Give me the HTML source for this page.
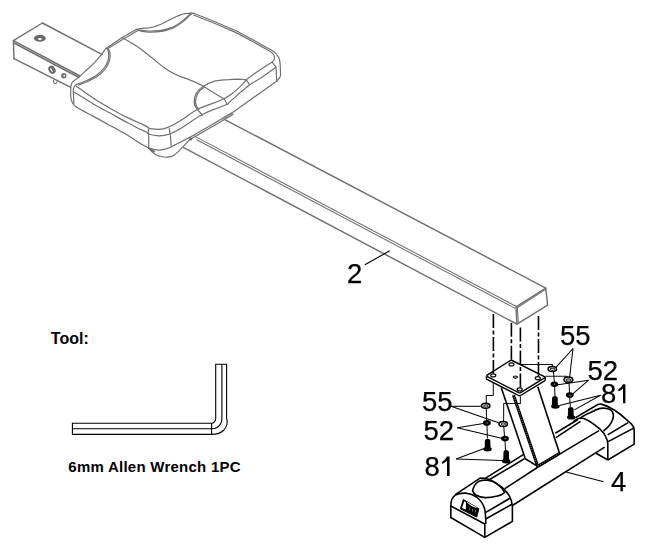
<!DOCTYPE html>
<html><head><meta charset="utf-8">
<style>
html,body{margin:0;padding:0;background:#fff;}
body{width:645px;height:545px;overflow:hidden;}
svg{display:block;} text.lbl{will-change:transform;}
.g{fill:none;stroke:#707070;stroke-width:1.45;stroke-linejoin:round;stroke-linecap:round;}
.b{fill:none;stroke:#000;stroke-width:1.6;stroke-linejoin:round;}
.t{fill:none;stroke:#000;stroke-width:0.9;}
.d{fill:none;stroke:#000;stroke-width:1.6;stroke-dasharray:14 2.5 4 2.5;}
.lbl{font-family:"Liberation Sans",sans-serif;font-size:27.5px;fill:#000;stroke:#000;stroke-width:0.25px;}
.bt{font-family:"Liberation Sans",sans-serif;font-weight:bold;fill:#000;}
</style></head>
<body>
<svg width="645" height="545" viewBox="0 0 645 545">
<rect width="645" height="545" fill="#fff"/>

<!-- ===== BEAM (part 2) ===== -->
<g class="g">
  <!-- rear end -->
  <path d="M42.4,23 L13.4,40.7 L14,58.7"/>
  <path d="M42.4,23 L102,54.3"/>
  <path d="M13.4,40.7 L80,76"/>
  <path d="M14,43 L79,77.5"/>
  <path d="M14,58.7 L70.3,87.2"/>
  <!-- main beam after seat -->
  <path d="M225.2,119.8 L545.8,288.1"/>
  <path d="M195,136.4 L516,306.3" stroke-width="1.05"/>
  <path d="M196.7,139.8 L514.8,308.1" stroke-width="1.05"/>
  <path d="M183.7,147.7 L517,324.2"/>
  <!-- end face -->
  <path d="M545.8,288.1 L516,306.8 L517,324.2 L547.6,305.2 Z"/>
  <path d="M545.2,289.6 L517.2,307.8" stroke-width="1.1"/>
  <path d="M517.4,307.8 L518.3,323.4" stroke-width="1.1"/>
</g>
<!-- rear-end holes -->
<ellipse cx="39.85" cy="38.3" rx="5.9" ry="3.5" fill="#6a6a6a"/>
<ellipse cx="39.9" cy="39" rx="2" ry="1.1" fill="#fff"/>
<ellipse cx="52" cy="69.8" rx="3.3" ry="4.3" transform="rotate(-35 52 69.8)" fill="#6a6a6a"/>
<ellipse cx="51.5" cy="70.1" rx="0.7" ry="2.1" transform="rotate(-35 51.5 70.1)" fill="#fff"/>
<circle cx="63.8" cy="75.8" r="2.7" fill="#707070"/>
<circle cx="64.2" cy="75.6" r="0.9" fill="#fff"/>
<path class="g" d="M53.6,80.3 L53.6,82 Q53.8,83.5 55.3,83.5 Q56.8,83.5 57,82 L57,81.8" style="stroke-width:1.2"/>

<!-- ===== SEAT ===== -->
<g class="g" style="stroke-width:1.2">
  <!-- left bolster -->
  <path d="M105.8,48.5 C105,49.5 103.2,52.3 101.2,54.8 C99.2,57.3 96.2,60.7 93.7,63.3 C91.2,65.9 88.8,67.9 86.3,70.2 C83.8,72.5 80.8,75.4 78.8,77.1 C76.8,78.8 75.8,79.3 74.6,80.3 C73.4,81.3 72.5,81.9 71.9,83 C71.3,84.1 71.1,84.7 70.9,86.7 C70.7,88.7 70.6,93.6 70.6,95 C70.8,99 71.3,101 72.5,103 C73.5,105 75,106.2 76.5,107"/>
  <path d="M107.2,48.7 C107.4,49.4 108.4,50.7 108.6,52.6 C108.8,54.5 108.8,57.6 108.1,60.1 C107.4,62.6 106.3,65 104.4,67.5 C102.5,70 99.9,72.8 96.9,75 C93.9,77.2 89.5,79.3 86.3,80.8 C83.1,82.3 79.7,83.2 77.8,84 C75.9,84.8 75.8,84.8 75.1,85.6 C74.4,86.3 73.9,87.4 73.6,88.5 C73.3,89.6 73.3,91.4 73.3,92 L74,103.7"/>
  <path d="M108.4,49.3 C108.7,49.9 109.8,51.1 110,53 C110.2,54.9 110.2,58 109.5,60.5 C108.8,63 107.5,65.7 105.6,68.3 C103.6,70.9 100.9,73.8 97.8,76 C94.7,78.2 90.2,80.3 87,81.8 C83.8,83.3 79.9,84.5 78.5,85"/>
  <!-- top edge left to back bolster -->
  <path d="M105.6,48.7 L122.1,37.6 L136.2,29.4"/>
  <path d="M107.2,48.9 L123,39.3 L137.4,30.8"/>
  <!-- back bolster -->
  <path d="M136.2,29.4 C140,28.5 144,28.3 148.6,27.9 C153,27.3 157,25.8 161,24.2 C165,22.5 169,20 173.4,18 C176,16.6 179,15.2 182.1,14.3 C184,13.7 186,13.4 188.3,13.4 L194.5,13.4"/>
  <path d="M137.4,29.8 C141,30.4 144.5,30.9 148.6,31 C153,31.1 157,30.9 161,30.4 C165.5,29.6 169.5,28.3 173.4,26.7 C176.5,25.2 179.5,23.2 182.1,21.1 C184,19.6 185.6,18.3 187,16.8 C188.5,15.3 189.7,14.2 190.8,13.4"/>
  <path d="M138.4,30.5 C142,31.5 145,32 149,32.1 C153.5,32.2 157.5,32 161.5,31.4 C166,30.6 170,29.2 174,27.6 C177.2,26 180.2,24 182.8,21.9 C184.8,20.3 186.4,18.9 187.8,17.4 C189.2,15.9 190.5,14.7 191.6,14"/>
  <!-- top back edge (double) -->
  <path d="M190.8,13.2 L194.4,13.5 C204,17.2 219,23.2 234.2,30 C244,34.6 256,41.5 272.5,50.7 C275.5,52.3 277.5,54.5 278.8,57.5 C279.8,60 280.1,62.5 280.2,65 L280.6,75 C280.5,77 279.5,78.5 277.5,80.3"/>
  <path d="M193.6,15 C203.5,18.8 218.5,24.8 233.8,31.6 C243.5,36.2 255.5,43 269.4,51 C272,52.5 274.3,54.5 274.5,57.3 C274.6,59.3 273.6,61 272.3,62.1"/>
  <!-- right corner vertical + rib -->
  <path d="M272.3,62.3 L276,67.1 L276.7,80.8"/>
  <!-- crease -->
  <path d="M122.1,37.6 C128,41 134,44.5 140,48.4 C148,54 155.5,61 163.2,67 C170,72 176,75.5 185,78.1 C191,80 197.5,83 203.5,86.3 C211,91 218,95.5 224.1,98.8"/>
  <!-- top surface front edge -->
  <path d="M272.3,62.1 L262,68.4 L255,73.2 L246.3,79.8 C244,82.5 241.8,85.2 239.3,87.4 C236.8,89.8 234.3,92 231.7,93.9 C229,95.8 226.7,97.5 224.1,98.8 C220,100.8 216,102.3 212.1,103.6 C207.5,105.2 203.3,106.6 199.1,108.5 C194,111 189.5,114.3 185,117.8 C179,121.8 172,125.8 167.9,127.4 C165,128.6 162,129.3 158.6,129.3 C155,129.3 152,128.9 149.3,128.4 C148.2,127.2 146.4,126.2 142.5,124.4 C138.6,122.6 131.5,119.7 126,116.9 C120.5,114.2 115,111.1 109.5,107.9 C104,104.8 98.5,101.6 93,98 C87.5,94.4 79.2,88.3 76.5,86.4"/>
  <!-- band lower line -->
  <path d="M276,67.3 L262,77.2 L255,81.6 L249.6,84.7 C246,87.8 242.7,90.6 239.3,93.3 C235,97.2 231,101 227.3,104.2 C222.5,106.3 218,108 213.2,109.6 C209.5,111 206,112.7 202.4,114.5 C197,117.3 192,120.8 187.2,124.3 C181.5,128.2 176,131.6 169.8,134 C166,135.3 162,135.9 158.6,135.8 C155,135.6 151.5,134.9 148.4,134 C148,133.6 147.2,132.6 145.8,131.8 C144.4,131 143.3,130.8 140,129.2 C136.7,127.5 131.1,124.6 126,121.9 C120.9,119.2 115,115.8 109.5,112.8 C104,109.8 98.9,107.1 93,103.7 C87.1,100.3 77.3,94.1 74.2,92.2"/>
  <!-- bolster ribs -->
  <path d="M246.3,79.8 L249.6,84.7"/>
  <path d="M224.1,98.8 L227.3,104.2"/>
  <path d="M197.5,109.6 L202.4,115"/>
  <!-- bottom silhouette -->
  <path d="M277.5,80.3 L276.7,81.2 L232.2,112.7 L195,134.6 L177.2,143.7 C173,146 169,148 165,149.2 C162,150 160,150.3 158.6,150.2 C155,150 151.5,149.2 148.4,147.9 C147,147.1 143.7,145.5 140,143.2 C136.3,140.9 131.1,137.3 126,134.3 C120.9,131.3 115,128.2 109.5,125.2 C104,122.2 98.5,119.1 93,116.1 C87.5,113.1 80.1,109.5 76.5,107"/>
  <!-- corner verticals -->
  <path d="M148.3,128.8 C148.8,135 148.8,142 148.6,148.6"/>
  <path d="M169.3,128.6 C170.5,135 171,140 171.2,145.8"/>
  <!-- front-right bolster dome -->
  <path d="M198,109.6 C195.5,107.5 194.3,105 194.2,102.6 C194,99.5 194.6,96.5 195.9,93.9 C197.8,90.5 200.5,88 203.5,86.3 C207,84 211,82.2 215.4,80.9 C219.5,80 224,79.7 228.4,79.6 L237.1,79.2 C240.5,79.2 243.5,79.4 246.3,79.8"/>
  <path d="M199,109.1 C196.7,107.2 195.6,104.8 195.5,102.4 C195.4,99.5 196,96.8 197.2,94.4 C199,91.2 201.6,88.8 204.5,87.1"/>

  <!-- under-seat -->
  <path d="M233,114.6 L191,139"/>
  <path d="M223,118.5 L232,113.2" stroke-width="2.2" stroke="#888"/>
  <path d="M190.7,138.6 L180,149.8 C178.5,151.5 176.5,153.2 174.4,154.9 C172.5,156.3 170,157 167,157.2 C165,157.4 162,157 158.6,155.8 C155,154.8 152,152 149.3,148.8"/>
  <path d="M150.5,149.3 L154,151.5" stroke-width="2"/>
  <circle cx="190.7" cy="139" r="1"/>
</g>

<!-- ===== label 2 ===== -->
<path d="M364.9,264.8 L389.7,250.8" stroke="#000" stroke-width="1.1" fill="none"/>
<text class="lbl" x="347" y="282.6" >2</text>

<!-- ===== dashed centre lines ===== -->
<path class="d" d="M493.4,313.9 L493.4,373.6"/>
<path class="d" d="M511.4,322.7 L511.4,362.6"/>
<path class="d" d="M520.4,327.6 L520.4,387.6"/>
<path class="d" d="M538.5,316 L538.5,376.3"/>

<!-- ===== FRONT STABILISER (part 4) ===== -->
<!-- plate -->
<g class="b">
  <path d="M487.2,375.1 L510.3,360.6 Q511.2,360.1 512.1,360.5 L544.4,376.6 Q545.4,377.3 544.5,377.9 L520.5,392.6 Q519.6,393.1 518.7,392.7 L487.3,376.6 Q486.3,375.8 487.2,375.1 Z" stroke-width="1.4"/>
  <path d="M486.4,376.2 L486.4,378.8 Q486.6,379.3 487.4,379.7 L518.7,395.5 Q519.6,396 520.5,395.5 L544.6,380.8 Q545.3,380.3 545.3,379.6 L545.3,377.3" stroke-width="1.4"/>
</g>
<g fill="none" stroke="#000" stroke-width="1.2">
  <ellipse cx="493.3" cy="375.4" rx="2.5" ry="1.5"/>
  <ellipse cx="511.5" cy="364.4" rx="2.5" ry="1.5"/>
  <ellipse cx="537.8" cy="378.2" rx="2.5" ry="1.5"/>
  <ellipse cx="519.6" cy="389.4" rx="2.5" ry="1.5"/>
  <ellipse cx="515.4" cy="377.1" rx="2" ry="1.1"/>
</g>
<!-- stem -->
<g class="b">
  <path d="M501.2,387.4 L525.3,458.8 L537.7,466.4"/>
  <path d="M537.8,386.8 L559.7,453.8"/>

  <path d="M538.1,467 L559.7,454.1"/>

</g>
<path d="M513.4,395 L537.8,466.6" stroke="#000" stroke-width="3" fill="none"/>
<path d="M513.4,395 L537.8,466.6" stroke="#bbb" stroke-width="0.9" stroke-dasharray="0.7 1.6" fill="none"/>
<path d="M538.2,466 L559.6,453.2" stroke="#000" stroke-width="2.8" fill="none"/>
<path d="M538.2,466 L559.6,453.2" stroke="#bbb" stroke-width="0.8" stroke-dasharray="0.7 1.6" fill="none"/>

<!-- base tube -->
<g class="b">
  <path d="M479.7,478.3 L484.8,478.6 L523.4,454.6"/>
  <path d="M555.3,433.3 L578,419.5"/>
  <path d="M489.2,479.8 L524.4,458.8"/>
  <path d="M555.9,437.6 L580.5,421.3"/>
  <path d="M504.6,488.8 L538.1,467"/>
  <path d="M559.7,454.1 L599,430.6"/>
  <path d="M512.4,505.5 L604.7,447.1"/>
  <!-- left cap -->
  <path d="M450.8,505.3 L450.8,517.5 L484.8,537.4 L512.4,521.4 L512.4,506"/>
  <path d="M484.8,524 L484.8,537.4"/>
  <path d="M450.8,506 C450.8,501 452.5,497 455.3,495.2 C457.5,493.8 461,493 465.5,493.1 C469,493.3 473,494.6 476.5,497 C480,499.8 482.8,503.5 484.2,507.5 C485.5,511.5 485.8,516 485.8,524"/>
  <path d="M450.8,506 L484.8,524"/>
  <path d="M455.3,494.6 L479.7,478.3 L483.5,478.3 C487,478.6 490.5,479.8 493.8,481.6 C497,483.5 500,485.8 502.8,488 C505.5,490.5 507.8,493 509.2,495.7 C510.8,498.5 512,502 512.4,506"/>
  <path d="M485.8,512.4 L509.9,498.3"/>
  <path d="M486.1,518.8 L512.4,504"/>
  <path d="M472.6,490.5 C473.5,486.5 475.5,483.5 478.4,481.6 C481,480.4 484,480 487.4,480.3 C491.5,480.8 495.5,482.7 498.9,485.4 C501.5,487.5 503.5,490 504.7,492.5 C502.3,494.8 499.5,495.9 496.4,496.3 C492.5,497.2 488.5,497.7 484.8,497.6 C481.5,497.5 478.5,496.5 475.8,495 C474,493.8 472.9,492.2 472.6,490.5 Z"/>
  <!-- logo -->
</g>
<path d="M463.3,499.5 L478.9,508.8 L476.7,517.1 L460.4,508.8 Z" fill="#000" stroke="#000" stroke-width="1" stroke-linejoin="round"/>
<path d="M464.3,501.3 L462,507.9 L465.9,509.6 L466,502.3 Z" fill="#fff"/>
<path d="M467,502.6 Q470.5,506.3 476.3,507.9 L476.5,507.2 Q471.5,504.6 467.3,502 Z" fill="#fff"/>
<g fill="#777"><rect x="469" y="508" width="0.9" height="2.6"/><rect x="472" y="509" width="0.9" height="2.6"/><rect x="475" y="510" width="0.9" height="2.4"/></g>
<!-- right cap -->
<g class="b">
  <path d="M575.6,417.6 L597.4,404.8 C598.8,404.1 600,404 601.1,404.1 C605.5,405.2 610.5,407.7 614.6,410.3 C618.5,412.8 622.3,415.8 625.6,418.9 C628,421 630.2,422.6 631.8,424.4 C633.4,426 634.2,427.5 634.2,430.6 L634.2,444.1 L607.8,460"/>
  <path d="M573.3,421.9 C575.5,419.5 578,418.2 580.5,418 C583,418 585,418.8 587.1,420 C590,421.5 592.3,423 594.4,424.6 C596.5,426.3 598.4,427.7 600,429.2 C602.5,431.5 604.8,434.4 606,437.3 C607.2,439.5 607.8,441 607.8,444 L607.8,460"/>
  <path d="M607.6,434.9 L628.1,422.6"/>
  <path d="M608.2,441.6 L633.6,428.1"/>
  <path d="M580.7,417.7 C584,415.6 587,413.8 590,412.7 C593.5,411 597,409.2 600.5,408.4 C603.5,407.9 607,408.3 610,409.6 C612,410.6 613.2,412.5 613.4,415 C613.5,418.5 612,421.8 609.7,425 C607.8,427.5 605.5,429.5 603.5,431.2"/>
  <path d="M596.1,453.3 L607.8,460"/>
</g>
<!-- bolt to cap small detail -->

<!-- hardware alignment lines -->
<g fill="none" stroke="#111" stroke-width="1.05">
  <path d="M520.4,364.4 L552.3,364.4 L552.6,366.7"/>
  <path d="M553.4,371.5 L554.4,382"/>
  <path d="M554.6,386.6 L555,396"/>
  <path d="M545.4,376.3 L566.5,376.3 L567.6,377.3"/>
  <path d="M569,382.5 L569.6,393"/>
  <path d="M569.8,397.7 L570.3,407"/>
  <path d="M493.3,382.6 L493.3,395.5 L486.3,395.5 L486.3,403.5"/>
  <path d="M486.3,408.2 L486.6,420.6"/>
  <path d="M487,425.2 L487.4,438.5"/>
  <path d="M520.4,396.5 L520.4,403.5 L503.7,403.5 L503.6,421.6"/>
  <path d="M503.8,426.2 L504.5,436.4"/>
  <path d="M505,441 L505.6,450.8"/>
</g>

<!-- washers (55) -->
<g fill="#fff" stroke="#000" stroke-width="1.5">
  <ellipse cx="485.7" cy="405.8" rx="4.2" ry="2.5"/>
  <ellipse cx="503.2" cy="423.9" rx="4.2" ry="2.5"/>
  <ellipse cx="552.3" cy="369" rx="4.2" ry="2.5"/>
  <ellipse cx="568.4" cy="379.8" rx="4.4" ry="2.7"/>
</g>
<g fill="#fff" stroke="#333" stroke-width="1.2">
  <ellipse cx="485.9" cy="406" rx="2.2" ry="1.1"/>
  <ellipse cx="503.4" cy="424.1" rx="2.2" ry="1.1"/>
  <ellipse cx="552.5" cy="369.2" rx="2.2" ry="1.1"/>
  <ellipse cx="568.6" cy="380" rx="2.3" ry="1.2"/>
</g>
<!-- lock washers (52) -->
<g fill="#000">
  <ellipse cx="486.9" cy="422.9" rx="3.9" ry="2.8"/>
  <ellipse cx="505" cy="438.6" rx="3.9" ry="2.8"/>
  <ellipse cx="554.4" cy="384.2" rx="3.8" ry="2.7"/>
  <ellipse cx="569.8" cy="395.1" rx="3.9" ry="2.8"/>
</g>
<g fill="#555">
  <ellipse cx="487.1" cy="423" rx="1.3" ry="0.7"/>
  <ellipse cx="505.2" cy="438.7" rx="1.3" ry="0.7"/>
  <ellipse cx="554.6" cy="384.3" rx="1.3" ry="0.7"/>
  <ellipse cx="570" cy="395.2" rx="1.3" ry="0.7"/>
</g>
<!-- bolts (81) -->
<g fill="#000">
  <path d="M484.9,440.6 Q485.2,438.9 487.6,438.8 Q490,438.9 490.3,440.6 L490.5,447.3 Q491.9,447.8 491.8,449.3 Q491.3,451.5 487.6,451.5 Q483.6,451.5 483.3,449.3 Q483.3,447.8 484.7,447.3 Z"/>
  <path d="M503.5,451.8 Q503.8,450.1 506.2,450 Q508.6,450.1 508.9,451.8 L509.1,459.3 Q510.5,459.8 510.4,461.3 Q509.9,463.5 506.2,463.5 Q502.2,463.5 501.9,461.3 Q501.9,459.8 503.3,459.3 Z"/>
  <path d="M552.1,397.8 Q552.4,396.1 554.9,396 Q557.4,396.1 557.7,397.8 L557.8,404.6 Q559.7,405 559.7,406.5 Q559.2,408.7 555.4,408.7 Q551.4,408.7 551.1,406.5 Q551.2,405 552,404.6 Z"/>
  <path d="M568,408.7 Q568.3,407 570.8,406.9 Q573.3,407 573.6,408.7 L573.7,415.5 Q575.6,415.9 575.6,417.4 Q575.1,419.6 571.3,419.6 Q567.3,419.6 567,417.4 Q567.1,415.9 567.9,415.5 Z"/>
</g>

<!-- leader lines -->
<g fill="none" stroke="#000" stroke-width="1.05">
  <path d="M573,348.5 L556.2,367.2"/>
  <path d="M573,348.5 L569.6,377.2"/>
  <path d="M588.6,380.2 L557.9,384.7"/>
  <path d="M588.6,380.2 L572.8,393.9"/>
  <path d="M600.6,395.3 L559.5,405.6"/>
  <path d="M600.6,395.3 L574.3,409.9"/>
  <path d="M451,406.3 L481.5,406.3"/>
  <path d="M451,406.3 L499.3,423"/>
  <path d="M457.2,427.8 L483.4,423.4"/>
  <path d="M457.2,427.8 L501.6,438.3"/>
  <path d="M456.1,459.1 L484.2,448.4"/>
  <path d="M456.1,459.1 L502.4,460.6"/>
  <path d="M565.3,471.7 L603.6,481.8"/>
</g>

<!-- labels -->
<text class="lbl" x="560" y="345">55</text>
<text class="lbl" x="587.5" y="380.2">52</text>
<text class="lbl" x="601" y="403">8</text>
<path d="M623,384.2 L625.4,384.2 L625.4,403.2 L623,403.2 L623,388.4 Q621,390.4 618.3,391.4 L618.3,389.4 Q621.3,387.8 623,384.2 Z" fill="#000"/>
<text class="lbl" x="422" y="411.2">55</text>
<text class="lbl" x="423.5" y="439.8">52</text>
<text class="lbl" x="424.4" y="476">8</text>
<path d="M447,456.5 L449.6,456.5 L449.6,475.9 L447,475.9 L447,460.8 Q445,462.8 442.1,463.9 L442.1,461.8 Q445.3,460.2 447,456.5 Z" fill="#000"/>
<text class="lbl" x="611" y="491">4</text>

<!-- ===== TOOL ===== -->
<text class="bt" x="50.8" y="344.3" style="font-size:16px">Tool:</text>
<g fill="none" stroke="#000" stroke-width="1.1">
  <path d="M72.4,423.3 L211.6,423.3 C213.6,423 215.7,421 215.7,418.8 L215.7,364.3 L226.6,364.3 L226.6,418 C227.6,421 227.4,426 224,430 C221,433 217,434.4 211.6,434.4 L72.4,434.4 Z"/>
  <path d="M72.4,428.8 L211.6,428.8 C216,428.8 219.5,426.5 221,423 C221.8,421.3 221.9,419.6 221.9,418 L221.9,364.3"/>
  <path d="M211.6,423.3 L211.6,434.4"/>
</g>
<text class="bt" x="68.3" y="471.8" style="font-size:15px;letter-spacing:0.25px">6mm Allen Wrench 1PC</text>
</svg>
</body></html>
